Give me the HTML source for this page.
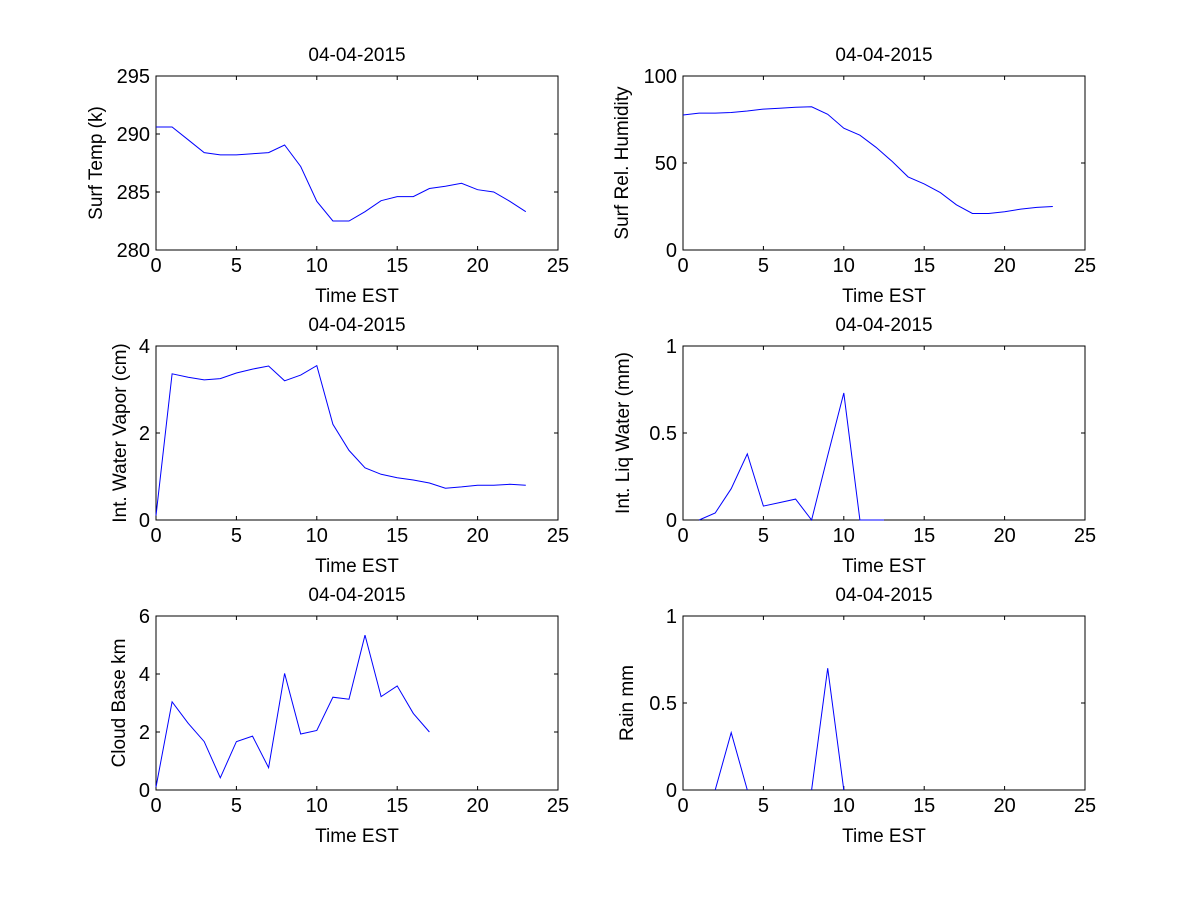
<!DOCTYPE html>
<html><head><meta charset="utf-8"><style>
body{margin:0;background:#fff;}
svg text{font-family:"Liberation Sans",sans-serif;fill:#000;}
</style></head><body>
<svg id="fig" width="1200" height="900" viewBox="0 0 1200 900"></svg>
<script>
const hours = [0,1,2,3,4,5,6,7,8,9,10,11,12,13,14,15,16,17,18,19,20,21,22,23];
const tempValues = [290.6,290.6,289.5,288.4,288.2,288.2,288.3,288.4,289.05,287.2,284.2,282.5,282.5,283.3,284.25,284.6,284.6,285.3,285.5,285.75,285.2,285.0,284.2,283.3];
const rhValues = [77.6,78.7,78.7,79,79.9,81,81.5,82,82.3,78,70,66,59,51,42,38,33,26,21,21,22,23.5,24.5,25];
const iwvValues = [0.1,3.36,3.28,3.22,3.25,3.38,3.47,3.54,3.2,3.33,3.55,2.2,1.6,1.2,1.05,0.97,0.92,0.85,0.73,0.76,0.8,0.8,0.82,0.8];
const ilwHours = [1,2,3,4,5,6,7,8,9,10,11,12,12.5];
const ilwValues = [0,0.04,0.18,0.38,0.08,0.1,0.12,0,0.37,0.73,0,0,0];
const cloudHours = [0,1,2,3,4,5,6,7,8,9,10,11,12,13,14,15,16,17];
const cloudValues = [0.1,3.04,2.3,1.67,0.42,1.67,1.86,0.77,4.02,1.93,2.05,3.2,3.13,5.34,3.22,3.59,2.64,2.0];
const rainHours = [2,3,4,5,6,7,8,9,10];
const rainValues = [0,0.33,0,null,null,null,0,0.7,0];
const xTicks = [0,5,10,15,20,25];
const tempTicks = [280,285,290,295];
const rhTicks = [0,50,100];
const iwvTicks = [0,2,4];
const ilwTicks = [0,0.5,1];
const cloudTicks = [0,2,4,6];
const rainTicks = [0,0.5,1];

const NS="http://www.w3.org/2000/svg";
const svg=document.getElementById('fig');
function mk(tag,attrs,parent){const e=document.createElementNS(NS,tag);for(const k in attrs)e.setAttribute(k,attrs[k]);(parent||svg).appendChild(e);return e;}

function panel(id,L,T,ylab,xs,ys,yTicks,yMin,yMax,yOff){
  const W=402,H=174,R=L+W,B=T+H;
  const g=mk('g',{});
  
  
  const sx=v=>L+(v-0)/(25-0)*W;
  const sy=v=>B-(v-yMin)/(yMax-yMin)*H;
  const box=mk('rect',{x:L,y:T,width:W,height:H,fill:'#fff',stroke:'#000','stroke-width':1},g);
  
  
  xTicks.forEach(t=>{
    const x=sx(t);
    mk('line',{x1:x,y1:B,x2:x,y2:B-4,stroke:'#000'},g);
    mk('line',{x1:x,y1:T,x2:x,y2:T+4,stroke:'#000'},g);
    const tx=mk('text',{x:x,y:B+22,'font-size':20,'text-anchor':'middle'},g);
    tx.textContent=t;
    
    
  });
  yTicks.forEach(t=>{
    const y=sy(t);
    mk('line',{x1:L,y1:y,x2:L+4,y2:y,stroke:'#000'},g);
    mk('line',{x1:R,y1:y,x2:R-4,y2:y,stroke:'#000'},g);
    const tx=mk('text',{x:L-6,y:y+7,'font-size':20,'text-anchor':'end'},g);
    tx.textContent=t;
    
    
  });
  let d='',pen=false;
  for(let i=0;i<xs.length;i++){
    if(ys[i]===null){pen=false;continue;}
    d+=(pen?'L':'M')+sx(xs[i]).toFixed(1)+' '+sy(ys[i]).toFixed(1)+' ';pen=true;
  }
  const p=mk('path',{d:d,fill:'none',stroke:'#0000ff','stroke-width':1},g);
  
  
  const ti=mk('text',{x:L+W/2,y:T-15,'font-size':19,'text-anchor':'middle'},g);
  ti.textContent='04-04-2015';
  
  
  const xl=mk('text',{x:L+W/2,y:B+52,'font-size':19,'text-anchor':'middle'},g);
  xl.textContent='Time EST';
  
  
  const yx=L-yOff, yy=T+H/2;
  const yl=mk('text',{x:yx,y:yy,'font-size':19,'text-anchor':'middle',transform:'rotate(-90 '+yx+' '+yy+')'},g);
  yl.textContent=ylab;
  
  
}
panel('surf-temp',156,76,'Surf Temp (k)',hours,tempValues,tempTicks,280,295,54);
panel('rel-humidity',683,76,'Surf Rel. Humidity',hours,rhValues,rhTicks,0,100,55);
panel('water-vapor',156,346,'Int. Water Vapor (cm)',hours,iwvValues,iwvTicks,0,4,30);
panel('liq-water',683,346,'Int. Liq Water (mm)',ilwHours,ilwValues,ilwTicks,0,1,54);
panel('cloud-base',156,616,'Cloud Base km',cloudHours,cloudValues,cloudTicks,0,6,31);
panel('rain',683,616,'Rain mm',rainHours,rainValues,rainTicks,0,1,50);
</script>
</body></html>
